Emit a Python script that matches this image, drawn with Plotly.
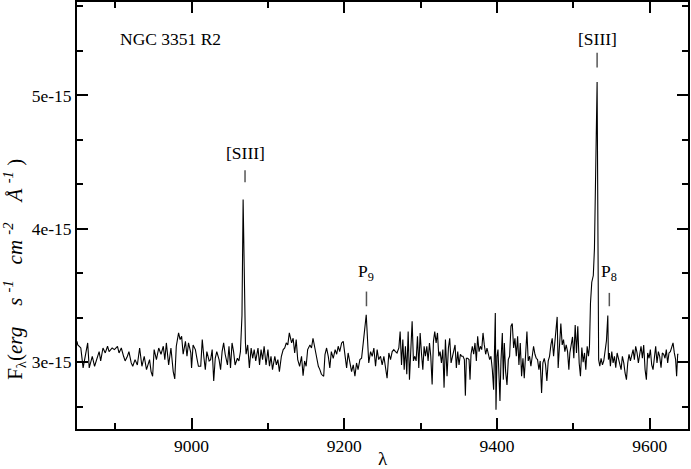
import plotly.graph_objects as go

# Wavelength (Angstrom) and flux (units of 1e-15 erg s^-1 cm^-2 A^-1)
wavelength = [
    8850, 8851, 8853, 8855, 8858, 8861, 8864, 8866, 8870, 8873, 8876, 8879, 8881, 8884, 8887, 8890,
    8892, 8896, 8899, 8903, 8905, 8908, 8911, 8913, 8916, 8918, 8921, 8923, 8926, 8929, 8932, 8935,
    8938, 8941, 8945, 8947, 8949, 8951, 8954, 8957, 8960, 8963, 8965, 8967, 8970, 8973, 8976, 8978,
    8980, 8983, 8985, 8987, 8989, 8992, 8994, 8996, 8999, 9000, 9002, 9005, 9007, 9009, 9012,
    9014, 9016, 9018, 9020, 9023, 9025, 9027, 9029, 9031, 9033, 9036, 9038, 9040, 9042, 9044, 9047,
    9049, 9051, 9053, 9055, 9057, 9060, 9062, 9064, 9066, 9067.5, 9069, 9070.5, 9071.4, 9073.5,
    9075.7, 9078, 9080, 9082, 9084, 9087, 9089, 9091, 9093, 9095, 9097.5, 9100, 9102, 9104, 9106,
    9109, 9111, 9113, 9115, 9117.6, 9120, 9122, 9124, 9126, 9128, 9131, 9133, 9135, 9137, 9139,
    9141.5, 9144, 9146, 9148, 9150, 9152, 9155, 9157, 9159, 9162, 9164, 9166, 9168, 9170, 9173,
    9174.7, 9176.8, 9179, 9181, 9183, 9185.5, 9188, 9190, 9192, 9194, 9196.5, 9198.6, 9200.8, 9203,
    9205, 9207, 9209.5, 9211.7, 9213.9, 9216, 9218, 9220.4, 9222.6, 9224.8, 9227, 9228.7, 9230.4,
    9232, 9234.4, 9236.5, 9238.7, 9240.9, 9243, 9245, 9247.4, 9249.6, 9251.8, 9254, 9256, 9258.3,
    9260.5, 9262.7, 9264.8, 9267, 9269, 9271.4, 9273.1, 9274.9, 9276.6, 9278.4, 9280, 9281.8,
    9283.6, 9285.3, 9287, 9288.8, 9290.5, 9292.3, 9294, 9295.8, 9297.5, 9299.3, 9301, 9302.8,
    9304.5, 9306.2, 9308, 9309.7, 9311.5, 9313.2, 9315, 9316.7, 9318.4, 9320.2, 9322, 9323.7,
    9325.4, 9327.2, 9329, 9330.6, 9332.4,
    9334.5, 9336.3, 9338, 9339.8, 9341.5, 9343.2, 9345, 9346.7, 9348.5, 9350.2, 9352, 9353.7,
    9355.4, 9357.2, 9358.5, 9359.8, 9361.5, 9363.3, 9364.6, 9365.9, 9367.6, 9369.4, 9371.1, 9372.9,
    9374.6, 9376.4, 9378.1, 9379.9, 9381.6, 9383.3, 9385.1, 9386.8, 9388.6, 9390.3, 9392, 9393.8,
    9395.5, 9396.4, 9397.7, 9398.6, 9399.9, 9401.2, 9402.5, 9403.8, 9405.1, 9406.9, 9408.2, 9409.5,
    9411.2, 9413, 9414.7, 9416.4, 9418.2, 9419.9, 9421.7, 9423.4, 9425.2, 9426.9, 9428.6, 9430.4,
    9432.1, 9433.9, 9435.6, 9437.4, 9439.1, 9440.8, 9442.6, 9444.3, 9446.1, 9447.8, 9449.6, 9451.3,
    9453, 9454.8, 9456.5, 9458.3, 9460, 9461.8, 9463.5, 9465.2, 9467, 9468.7, 9470.5, 9472.2,
    9474, 9475.7, 9477.4, 9478.7, 9480, 9481.8, 9483.5, 9485.3, 9487, 9488.8, 9490.5, 9492.3, 9494,
    9495.3, 9497, 9498.8, 9500.5, 9502.3, 9504, 9505.7, 9507.5, 9509.2, 9511, 9512.7, 9514.5,
    9516.2, 9518, 9519.7, 9521, 9522.3, 9524, 9526, 9527.5, 9529.5, 9531, 9533, 9534.5,
    9536.2, 9538, 9539.7, 9541.5, 9543.2, 9545, 9545.8, 9547.1, 9548.4, 9550.2, 9551.9, 9553.7,
    9555.4, 9557.2, 9558.9, 9560.6, 9562.4, 9564.1, 9565.9, 9567.6, 9569.4, 9571.1, 9572.8, 9574.6,
    9576.3, 9578.1, 9579.8, 9581.5, 9583.3, 9585, 9586.8, 9588.5, 9590.3, 9592, 9593.8, 9595.5,
    9597.2, 9599, 9600.7, 9602.5, 9604.2, 9606, 9607.7, 9609.4, 9611.2, 9612.9, 9614.7, 9616.4,
    9618.2, 9619.9, 9621.6, 9623.4, 9625.1, 9626.9, 9628.6, 9630.4, 9632.1, 9633.8, 9635.1, 9636.5,
    9637.5,
]

flux_e15 = [
    3.157, 3.13, 3.12, 3.107, 2.958, 3.045, 3.145, 2.958, 3.045, 2.97, 3.02, 3.08, 3.01, 3.107, 3.07, 3.12,
    3.08, 3.107, 3.095, 3.12, 3.07, 3.107, 3.045, 3.01, 3.045, 3.08, 2.995, 2.97, 3.02, 2.98, 3.107, 2.97,
    3.045, 2.945, 3.02, 2.93, 2.895, 3.095, 3.02, 3.107, 3.06, 3.12, 3.02, 3.145, 2.98, 3.107, 2.93, 2.875,
    3.12, 3.22, 3.17, 3.195, 3.06, 3.157, 3.045, 3.145, 3.07, 2.958, 3.13, 3.095, 3.03, 2.97, 2.97,
    3.17, 3.045, 2.945, 3.08, 3.01, 3.02, 3.095, 2.86, 3.03, 3.08, 3.02, 2.945, 3.08, 3.145, 3.06, 2.98,
    3.12, 2.958, 3.145, 3.08, 2.98, 3.03, 3.01, 3.08, 3.35, 4.22, 3.55, 3.15, 3.06, 3.13,
    2.958, 3.107, 3.03, 3.095, 3.01, 3.107, 2.98, 3.095, 3.02, 3.12, 2.98, 3.095, 2.97, 3.045, 2.945,
    3.045, 2.98, 3.02, 2.93, 3.045, 3.095, 3.107, 3.145, 3.13, 3.22, 3.145, 3.18, 3.07, 3.17, 3.02,
    2.97, 3.045, 2.9, 3.01, 2.97, 3.095, 3.13, 3.107, 3.18, 3.08, 3.045, 2.97, 2.945, 2.91, 2.895,
    3.057, 3.107, 3.045, 2.958, 3.08, 3.03, 3.095, 3.06, 3.12, 3.08, 3.145, 3.157, 3.045, 2.958,
    3.07, 3.01, 2.93, 2.98, 2.895, 2.995, 2.945, 3.02, 3.03, 3.145, 3.245, 3.356, 3.17,
    2.995, 3.08, 3.045, 3.107, 2.97, 3.095, 3.02, 3.045, 2.98, 3.045, 2.958, 2.88, 3.07,
    3.02, 3.08, 3.095, 3.08, 3.07, 3.107, 3.23, 2.98, 3.17, 2.945, 3.12, 2.91,
    3.23, 2.87, 3.107, 3.307, 3.01, 3.045, 3.01, 3.195, 2.958, 3.22, 3.07, 2.945,
    3.12, 3.045, 3.12, 3.01, 3.145, 3.045, 2.833, 3.157, 3.23, 3.145, 3.22, 3.045,
    3.08, 2.995, 3.095, 2.81, 3.17,
    2.895, 3.107, 3.18, 2.995, 3.045, 3.095, 3.13, 2.958, 3.08, 2.98, 3.06, 3.045,
    3.045, 3.02, 2.75, 3.03, 3.03, 3.02, 2.87, 3.06, 3.12, 3.06, 3.145, 3.01,
    3.195, 3.08, 3.12, 3.095, 3.22, 3.13, 3.06, 3.107, 3.045, 3.02, 3.045, 2.945,
    2.795, 3.145, 3.37, 2.645, 3.045, 3.095, 2.945, 2.71, 3.01, 3.22, 2.87, 3.145,
    2.93, 2.83, 3.02, 3.045, 3.27, 3.29, 3.107, 3.18, 3.045, 3.195, 2.98, 3.145,
    2.895, 3.03, 2.88, 3.12, 3.23, 3.01, 3.045, 2.97, 3.03, 3.12, 3.06, 3.03,
    3.02, 2.945, 3.01, 2.77, 2.995, 3.03, 2.98, 2.86, 3.01, 3.045, 3.13, 3.18,
    3.045, 3.145, 3.23, 3.34, 2.958, 3.145, 3.29, 3.13, 3.17, 3.08, 3.13, 3.08, 2.945,
    3.07, 3.12, 3.19, 3.03, 3.28, 3.07, 3.27, 2.995, 2.895, 3.11, 3.0, 3.07,
    2.945, 3.12, 3.045, 3.12, 3.44, 3.6, 3.65, 3.85, 4.45, 5.1, 3.02, 2.97,
    3.03, 2.98, 3.01, 3.095, 3.16, 3.35, 3.02, 3.07, 2.97, 3.08, 2.995, 3.045,
    2.96, 3.07, 3.02, 2.995, 2.945, 3.045, 2.995, 2.92, 2.87, 2.995, 3.06, 3.01,
    3.045, 3.095, 3.02, 3.12, 3.07, 2.995, 3.06, 3.12, 3.03, 3.13, 2.945, 2.87,
    3.07, 3.03, 3.095, 2.98, 2.945, 3.07, 3.12, 2.995, 3.08, 3.045, 2.96, 3.07,
    3.06, 3.03, 3.095, 2.995, 3.07, 3.08, 3.11, 3.145, 3.07, 3.02, 2.895, 3.06,
    3.06,
]

# Line identifications (label text, rest wavelength) and their label / marker heights (1e-15 units)
line_ids = ["[SIII]", "[SIII]", "P<sub>9</sub>", "P<sub>8</sub>"]
line_lambda = [9070, 9531, 9229, 9547]
label_flux = [4.57, 5.42, 3.67, 3.67]
mark_lo = [4.35, 5.21, 3.42, 3.42]
mark_hi = [4.44, 5.32, 3.53, 3.52]

x_ticks = [9000, 9200, 9400, 9600]
y_ticks = [3.0, 4.0, 5.0]
y_tick_text = ["3e-15", "4e-15", "5e-15"]

SCALE = 1e-15
FONT = "Liberation Serif"
NB = "&nbsp;"

fig = go.Figure()
fig.add_trace(go.Scatter(
    x=wavelength, y=[v * SCALE for v in flux_e15], mode="lines",
    line=dict(color="black", width=1.1), showlegend=False,
))

for lam, lo, hi in zip(line_lambda, mark_lo, mark_hi):
    fig.add_shape(type="line", x0=lam, x1=lam, y0=lo * SCALE, y1=hi * SCALE,
                  line=dict(color="#555555", width=1.5))

for txt, lam, yl in zip(line_ids, line_lambda, label_flux):
    fig.add_annotation(x=lam, y=yl * SCALE, text=txt, showarrow=False,
                       font=dict(family=FONT, size=17.5, color="black"),
                       xanchor="center", yanchor="middle")

fig.add_annotation(x=8973, y=5.42 * SCALE, text="NGC 3351 R2", showarrow=False,
                   font=dict(family=FONT, size=17.5, color="black"),
                   xanchor="center", yanchor="middle")

ytitle = ("F<sub>λ</sub>(<i>erg</i>" + NB * 4 + "<i>s</i>" + NB + "<sup><i>-1</i></sup>" + NB * 3 +
          "<i>cm</i>" + NB + "<sup><i>-2</i></sup>" + NB * 4 + "<i>Å</i>" + NB + "<sup><i>-1</i></sup>" + NB + ")")
fig.add_annotation(xref="paper", yref="paper", x=-0.1015, y=0.375, textangle=-90,
                   text=ytitle, showarrow=False, font=dict(family=FONT, size=21, color="black"),
                   xanchor="center", yanchor="middle")

fig.add_annotation(xref="paper", yref="paper", x=0.5, y=-0.068, text="λ", showarrow=False,
                   font=dict(family=FONT, size=19, color="black"), xanchor="center", yanchor="middle")

fig.update_layout(
    width=691, height=469,
    margin=dict(l=77, r=3, t=2, b=40),
    paper_bgcolor="white", plot_bgcolor="white",
    font=dict(family=FONT, size=17.5, color="black"),
    xaxis=dict(
        range=[8850, 9650], tickvals=x_ticks, ticks="inside", ticklen=11, tickwidth=1.5,
        tickcolor="black", showline=True, linecolor="black", linewidth=2, mirror="allticks",
        showgrid=False, zeroline=False, tickfont=dict(family=FONT, size=17.5), automargin=False,
        minor=dict(dtick=100, tick0=8900, ticks="inside", ticklen=6, tickcolor="black", tickwidth=1.5, showgrid=False),
    ),
    yaxis=dict(
        range=[2.5 * SCALE, 5.7 * SCALE], tickvals=[v * SCALE for v in y_ticks], ticktext=y_tick_text,
        ticks="inside", ticklen=11, tickwidth=1.5, tickcolor="black", showline=True,
        linecolor="black", linewidth=2, mirror="allticks", showgrid=False, zeroline=False,
        tickfont=dict(family=FONT, size=17.5), automargin=False,
        minor=dict(dtick=SCALE / 3, tick0=3 * SCALE, ticks="inside", ticklen=6, tickcolor="black", tickwidth=1.5, showgrid=False),
    ),
)

fig.write_html("out.html", config={"displayModeBar": False},
               post_script="document.body.style.margin='0';document.body.style.overflow='hidden';")
